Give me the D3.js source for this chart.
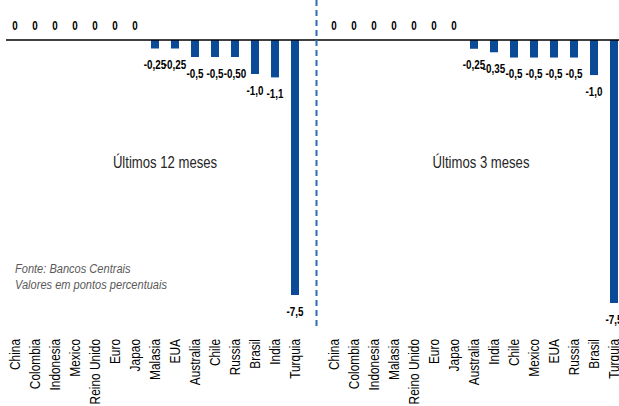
<!DOCTYPE html>
<html>
<head>
<meta charset="utf-8">
<script src="https://cdn.jsdelivr.net/npm/d3@7"></script>
<style>
  html, body { margin: 0; padding: 0; background: #fff; }
  svg { display: block; }
</style>
</head>
<body>
<div id="chart"></div>
<script>
// ---- Data ----
const leftCategories = ["China","Colombia","Indonesia","Mexico","Reino Unido","Euro","Japao","Malasia","EUA","Australia","Chile","Russia","Brasil","India","Turquia"];
const leftValues = [0,0,0,0,0,0,0,-0.25,-0.25,-0.5,-0.5,-0.5,-1.0,-1.1,-7.5];
const leftLabels = ["0","0","0","0","0","0","0","-0,25","-0,25","-0,5","-0,5","-0,50","-1,0","-1,1","-7,5"];

const rightCategories = ["China","Colombia","Indonesia","Malasia","Reino Unido","Euro","Japao","Australia","India","Chile","Mexico","EUA","Russia","Brasil","Turquia"];
const rightValues = [0,0,0,0,0,0,0,-0.25,-0.35,-0.5,-0.5,-0.5,-0.5,-1.0,-7.5];
const rightLabels = ["0","0","0","0","0","0","0","-0,25","-0,35","-0,5","-0,5","-0,5","-0,5","-1,0","-7,5"];

const panelTitles = ["Últimos 12 meses", "Últimos 3 meses"];
const noteLines = ["Fonte: Bancos Centrais", "Valores em pontos percentuais"];

// ---- Font handling: use a narrow face if installed, else condense a regular one ----
const sans = "'Liberation Sans', Arial, sans-serif";
const narrowFace = "'Liberation Sans Narrow', 'Arial Narrow'";
const ctx = document.createElement("canvas").getContext("2d");
ctx.font = "bold 40px " + sans;
const wSans = ctx.measureText("-0,50 Reino").width;
ctx.font = "bold 40px " + narrowFace + ", " + sans;
const wNarrow = ctx.measureText("-0,50 Reino").width;
const hasNarrow = wNarrow < wSans * 0.92;
const NF = hasNarrow ? narrowFace + ", " + sans : sans;
const SX = hasNarrow ? 1 : 0.82;

function ntext(sel, x, y, rot) {
  sel.attr("transform", (d, i) => {
    const xx = typeof x === "function" ? x(d, i) : x;
    const yy = typeof y === "function" ? y(d, i) : y;
    return `translate(${xx},${yy})` + (rot ? ` rotate(${rot})` : "") + ` scale(${SX},1)`;
  }).style("font-family", NF);
  return sel;
}

// ---- Drawing ----
const W = 619, H = 406;
const barColor = "#0a4a96";
const svg = d3.select("#chart").append("svg").attr("width", W).attr("height", H)
  .style("background", "#fff");

function panel(cats, vals, labels, xRange, yBottom, lineRange, title, titleX) {
  const x = d3.scaleBand().domain(cats).range(xRange).paddingInner(0.6).paddingOuter(0.3);
  const y = d3.scaleLinear().domain([-7.5, 0]).range([yBottom, 40]);
  const g = svg.append("g");
  const data = cats.map((c, i) => ({c, v: vals[i], l: labels[i]}));
  const cx = d => x(d.c) + x.bandwidth() / 2;

  g.selectAll("rect.bar").data(data).join("rect")
    .attr("class", "bar")
    .attr("x", d => x(d.c))
    .attr("width", x.bandwidth())
    .attr("y", d => Math.min(y(0), y(d.v)))
    .attr("height", d => Math.abs(y(d.v) - y(0)))
    .attr("fill", barColor);

  g.append("line")
    .attr("x1", lineRange[0]).attr("x2", lineRange[1])
    .attr("y1", y(0)).attr("y2", y(0))
    .attr("stroke", "#000").attr("stroke-width", 1.3);

  ntext(g.selectAll("text.val").data(data).join("text").attr("class", "val"),
        cx, d => d.v === 0 ? y(0) - 10.5 : y(d.v) + 20.5)
    .attr("text-anchor", "middle")
    .style("font-weight", "bold")
    .style("font-size", "12px")
    .attr("fill", "#000")
    .text(d => d.l);

  ntext(g.selectAll("text.cat").data(data).join("text").attr("class", "cat"),
        cx, 339, -90)
    .attr("dy", "0.36em")
    .attr("text-anchor", "end")
    .style("font-size", "14.5px")
    .attr("fill", "#000")
    .text(d => d.c);

  ntext(g.append("text"), titleX, 168)
    .attr("text-anchor", "middle")
    .style("font-size", "16px")
    .attr("fill", "#262626")
    .text(title);
}

panel(leftCategories, leftValues, leftLabels, [5, 305], 295, [6, 310], panelTitles[0], 165);
panel(rightCategories, rightValues, rightLabels, [324, 624], 303, [310, 619], panelTitles[1], 481);

// separator
svg.append("line")
  .attr("x1", 316.5).attr("x2", 316.5)
  .attr("y1", 0).attr("y2", 328)
  .attr("stroke", "#2e6db4").attr("stroke-width", 2)
  .attr("stroke-dasharray", "6,4");

// notes
ntext(svg.selectAll("text.note").data(noteLines).join("text").attr("class", "note"),
      15, (d, i) => 273 + i * 16)
  .style("font-style", "italic")
  .style("font-size", "13.5px")
  .attr("fill", "#595959")
  .text(d => d);
</script>
</body>
</html>
